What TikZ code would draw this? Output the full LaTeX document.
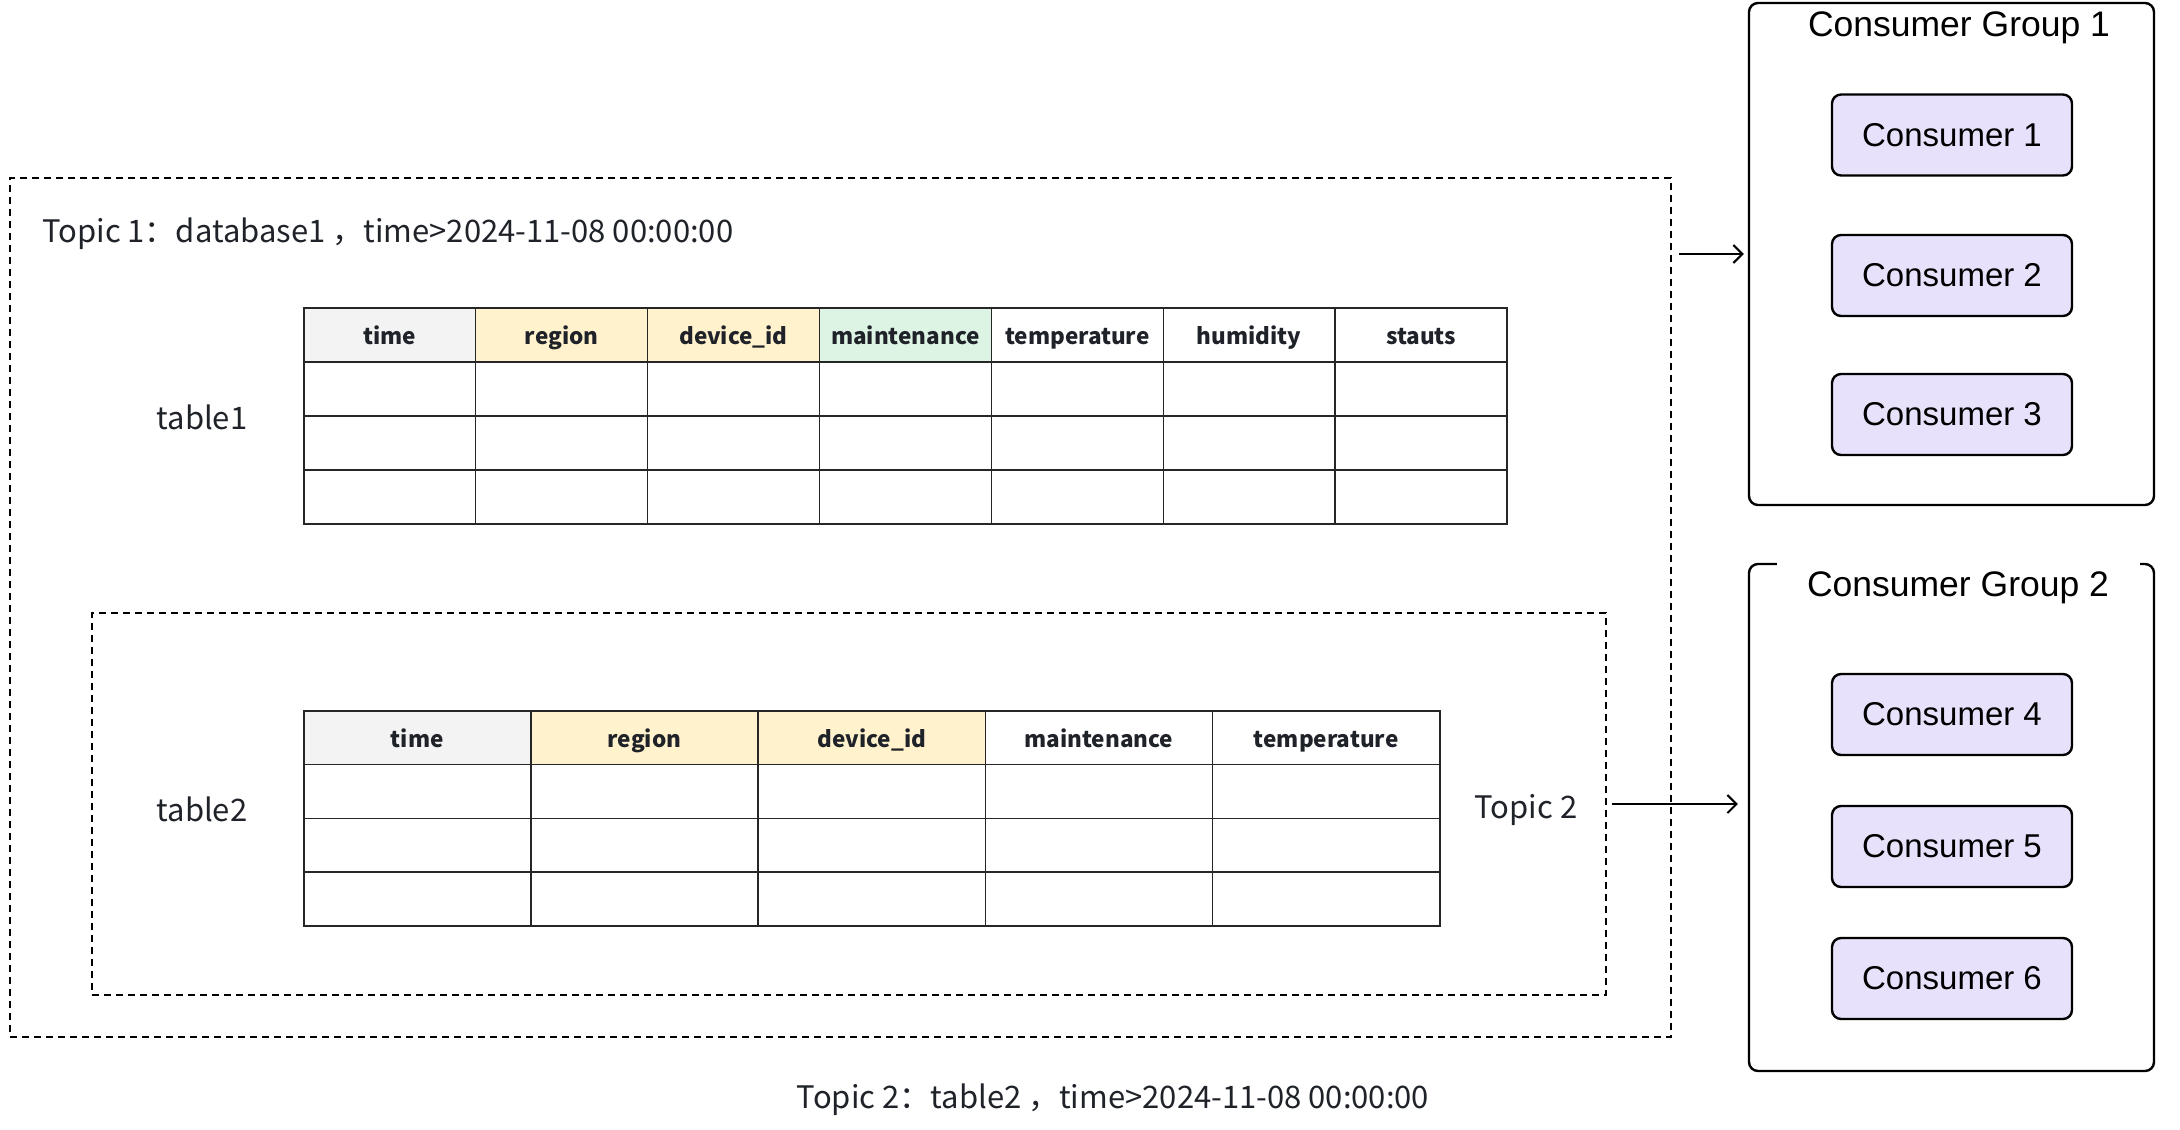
\documentclass[tikz,border=0pt]{standalone}
\usepackage{fontspec}
\setmainfont{Liberation Sans}
\newfontfamily\cjk{Noto Sans CJK SC}
\usetikzlibrary{arrows.meta}
\definecolor{txt}{HTML}{1F2329}
\definecolor{hgray}{HTML}{F3F3F3}
\definecolor{hyel}{HTML}{FFF2CC}
\definecolor{hgrn}{HTML}{DDF4E4}
\definecolor{cons}{HTML}{E7E1FB}
\begin{document}
\begin{tikzpicture}[x=1pt,y=-1pt,
  topicbox/.style={draw, line width=2.2pt, dash pattern=on 7pt off 5pt, inner sep=0pt},
  cell/.style={draw=black!85, line width=1.5pt, inner sep=0pt, anchor=north west,
    font=\cjk\bfseries\fontsize{22.5}{26}\selectfont, text=txt, text height=21pt, text depth=1pt},
  lbl/.style={font=\cjk\fontsize{31}{36}\selectfont, text=txt, inner sep=0pt},
  group/.style={draw, line width=2.4pt, rounded corners=9pt, minimum width=405pt, inner sep=0pt},
  grouptitle/.style={font=\fontsize{35.5}{40}\selectfont, inner sep=0pt},
  consumer/.style={draw, line width=2.4pt, rounded corners=9pt, fill=cons,
    minimum width=240pt, minimum height=81pt, font=\fontsize{33}{38}\selectfont},
  arr/.style={-{Straight Barb[length=9pt,width=18pt,line width=2pt]}, line width=2pt}
]
\useasboundingbox (0,0) rectangle (2180,1130);
\fill[white] (0,0) rectangle (2180,1130);

% Topic boxes
\node[topicbox, minimum width=1661pt, minimum height=859pt] (t1box) at (840.5,607.5) {};
\node[topicbox, minimum width=1514pt, minimum height=382pt] (t2box) at (849,804) {};

% Labels
\node[lbl, anchor=west] (t1lbl) at (42,234) {Topic 1：database1 ，time>2024-11-08 00:00:00};
\node[lbl] (tab1lbl) at (202,417) {table1};
\node[lbl] (tab2lbl) at (202,809) {table2};
\node[lbl] (t2lbl) at (1526,810) {Topic 2};
\node[lbl] (t2desc) at (1113,1100) {Topic 2：table2 ，time>2024-11-08 00:00:00};

% Table 1
\foreach \name/\col [count=\i from 0] in {time/hgray, region/hyel, device\_id/hyel, maintenance/hgrn, temperature/white, humidity/white, stauts/white}{
  \node[cell, fill=\col, minimum width=171.9pt, minimum height=54pt] (ta\i h) at ({303+\i*171.9},307) {\name};
  \foreach \r in {1,2,3}{
    \node[cell, minimum width=171.9pt, minimum height=54pt] (ta\i r\r) at ({303+\i*171.9},{307+\r*54}) {};
  }
}

% Table 2
\foreach \name/\col [count=\i from 0] in {time/hgray, region/hyel, device\_id/hyel, maintenance/white, temperature/white}{
  \node[cell, fill=\col, minimum width=227.2pt, minimum height=53.75pt] (tb\i h) at ({303+\i*227.2},710) {\name};
  \foreach \r in {1,2,3}{
    \node[cell, minimum width=227.2pt, minimum height=53.75pt] (tb\i r\r) at ({303+\i*227.2},{710+\r*53.75}) {};
  }
}

% Consumer groups
\node[group, minimum height=502pt] (g1) at (1951.5,254) {};
\node[grouptitle] (g1t) at (1959,28) {Consumer Group 1};
\node[group, minimum height=507pt] (g2) at (1951.5,817.5) {};
\node[grouptitle, fill=white, minimum width=363pt, minimum height=52pt] (g2t) at (1958,588) {Consumer Group 2};

\node[consumer] (c1) at (1952,135) {Consumer 1};
\node[consumer] (c2) at (1952,275.5) {Consumer 2};
\node[consumer] (c3) at (1952,414.5) {Consumer 3};
\node[consumer] (c4) at (1952,714.5) {Consumer 4};
\node[consumer] (c5) at (1952,846.5) {Consumer 5};
\node[consumer] (c6) at (1952,978.5) {Consumer 6};

% Arrows
\draw[arr] ([xshift=7pt]t1box.east |- g1.west) -- ([xshift=-4pt]g1.west);
\draw[arr] ([xshift=5pt]t2box.east) -- ([xshift=-10pt]g2.west |- t2box.east);
\end{tikzpicture}
\end{document}
